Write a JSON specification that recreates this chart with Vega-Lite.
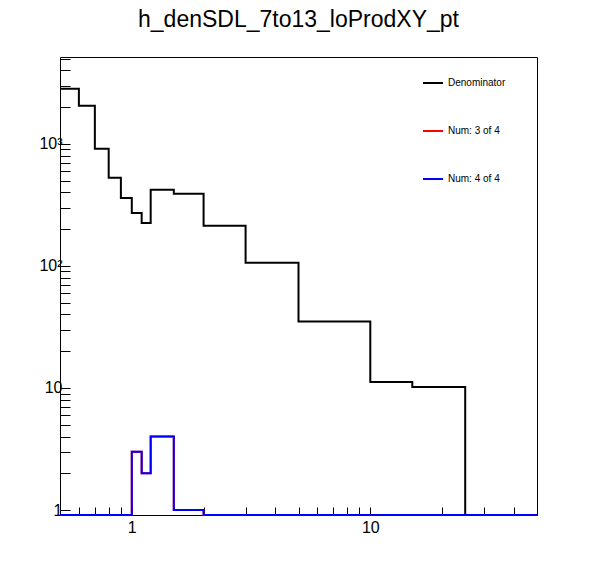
{
  "$schema": "https://vega.github.io/schema/vega-lite/v6.json",
  "width": 477,
  "height": 458,
  "autosize": "none",
  "padding": {"left": 60, "top": 57, "right": 59, "bottom": 57},
  "background": "white",
  "title": {"text": "h_denSDL_7to13_loProdXY_pt", "fontSize": 23, "fontWeight": "normal", "font": "Liberation Sans", "offset": 25, "color": "black"},
  "data": {"values": [
    {"series": "Denominator", "pt": 0.5, "n": 2830},
    {"series": "Denominator", "pt": 0.6, "n": 2050},
    {"series": "Denominator", "pt": 0.7, "n": 910},
    {"series": "Denominator", "pt": 0.8, "n": 527},
    {"series": "Denominator", "pt": 0.9, "n": 360},
    {"series": "Denominator", "pt": 1.0, "n": 272},
    {"series": "Denominator", "pt": 1.1, "n": 225},
    {"series": "Denominator", "pt": 1.2, "n": 420},
    {"series": "Denominator", "pt": 1.5, "n": 390},
    {"series": "Denominator", "pt": 2, "n": 213},
    {"series": "Denominator", "pt": 3, "n": 106},
    {"series": "Denominator", "pt": 5, "n": 35},
    {"series": "Denominator", "pt": 10, "n": 11.2},
    {"series": "Denominator", "pt": 15, "n": 10.2},
    {"series": "Denominator", "pt": 25, "n": 0.91},
    {"series": "Denominator", "pt": 50, "n": 0.91},
    {"series": "Num: 3 of 4", "pt": 0.5, "n": 0.91},
    {"series": "Num: 3 of 4", "pt": 1.0, "n": 3},
    {"series": "Num: 3 of 4", "pt": 1.1, "n": 2},
    {"series": "Num: 3 of 4", "pt": 1.2, "n": 4},
    {"series": "Num: 3 of 4", "pt": 1.5, "n": 1},
    {"series": "Num: 3 of 4", "pt": 2, "n": 0.91},
    {"series": "Num: 3 of 4", "pt": 50, "n": 0.91},
    {"series": "Num: 4 of 4", "pt": 0.5, "n": 0.91},
    {"series": "Num: 4 of 4", "pt": 1.0, "n": 3},
    {"series": "Num: 4 of 4", "pt": 1.1, "n": 2},
    {"series": "Num: 4 of 4", "pt": 1.2, "n": 4},
    {"series": "Num: 4 of 4", "pt": 1.5, "n": 1},
    {"series": "Num: 4 of 4", "pt": 2, "n": 0.91},
    {"series": "Num: 4 of 4", "pt": 50, "n": 0.91}
  ]},
  "mark": {"type": "line", "interpolate": "step-after", "strokeWidth": 2},
  "encoding": {
    "x": {
      "field": "pt", "type": "quantitative",
      "scale": {"type": "log", "domain": [0.5, 50], "nice": false},
      "axis": {
        "title": null, "grid": false, "domain": false, "tickSize": -8, "tickColor": "black",
        "values": [0.5, 0.6, 0.7, 0.8, 0.9, 1, 2, 3, 4, 5, 6, 7, 8, 9, 10, 20, 30, 40, 50],
        "labelExpr": "datum.value == 1 || datum.value == 10 ? datum.value : ''",
        "labelFontSize": 16, "labelFont": "Liberation Sans", "labelColor": "black", "labelPadding": 12
      }
    },
    "y": {
      "field": "n", "type": "quantitative",
      "scale": {"type": "log", "domain": [0.91, 5150], "nice": false},
      "axis": {
        "title": null, "grid": false, "domain": false, "tickSize": -10, "tickColor": "black",
        "values": [1, 2, 3, 4, 5, 6, 7, 8, 9, 10, 20, 30, 40, 50, 60, 70, 80, 90, 100, 200, 300, 400, 500, 600, 700, 800, 900, 1000, 2000, 3000, 4000, 5000],
        "labelExpr": "datum.value == 1 ? '1' : datum.value == 10 ? '10' : datum.value == 100 ? '10²' : datum.value == 1000 ? '10³' : ''",
        "labelFontSize": 16, "labelFont": "Liberation Sans", "labelColor": "black", "labelPadding": 8
      }
    },
    "color": {
      "field": "series", "type": "nominal",
      "scale": {"domain": ["Denominator", "Num: 3 of 4", "Num: 4 of 4"], "range": ["black", "red", "blue"]},
      "legend": {
        "title": null, "orient": "none", "legendX": 358, "legendY": 11,
        "symbolType": "stroke", "symbolSize": 400, "symbolStrokeWidth": 2,
        "rowPadding": 32, "labelFontSize": 10, "labelFont": "Liberation Sans", "labelColor": "black",
        "fillColor": "white", "padding": 4
      }
    },
    "order": {"field": "series"}
  },
  "config": {"view": {"stroke": "black", "strokeWidth": 1}}
}
